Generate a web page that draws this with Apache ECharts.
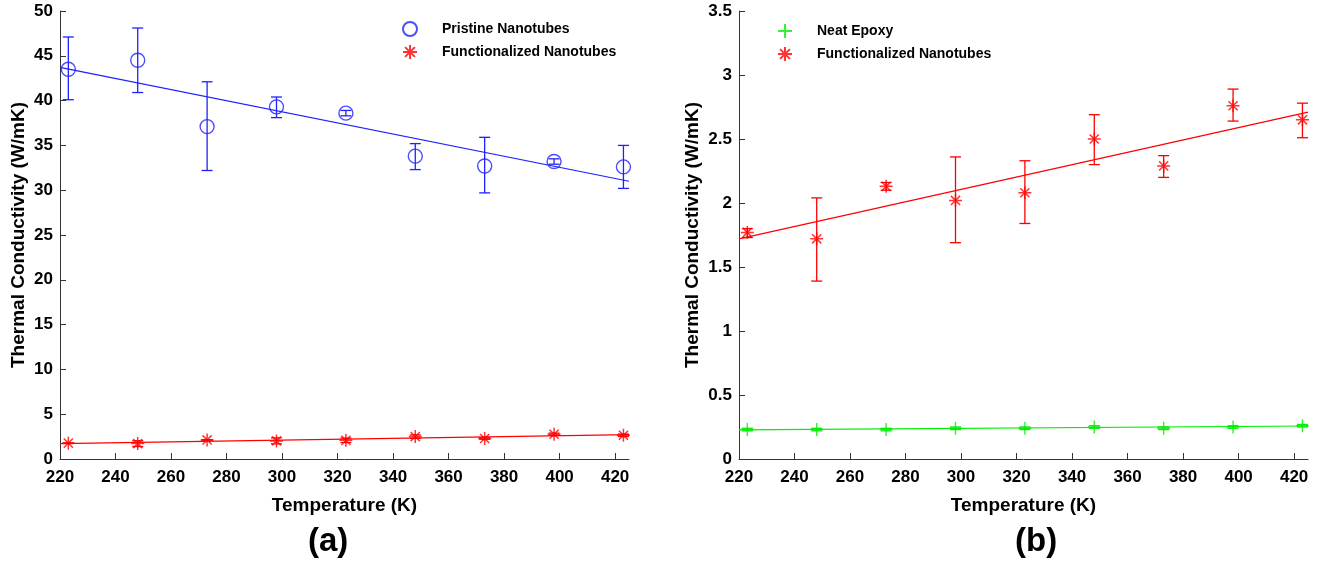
<!DOCTYPE html>
<html>
<head>
<meta charset="utf-8">
<script src="https://cdn.jsdelivr.net/npm/echarts@6/dist/echarts.min.js"></script>
<style>
  html, body { margin: 0; padding: 0; background: #fff; }
  #chart { width: 1325px; height: 570px; }
</style>
</head>
<body>
<div id="chart"></div>
<script>
// Measurement temperatures (K)
const temps = [223, 248, 273, 298, 323, 348, 373, 398, 423];

// Pristine nanotubes: thermal conductivity (W/mK) with error-bar bounds
const pristine     = [43.5, 44.5, 37.1, 39.3, 38.6, 33.8, 32.7, 33.2, 32.6];
const pristineLow  = [40.1, 40.9, 32.2, 38.1, 38.3, 32.3, 29.7, 32.9, 30.2];
const pristineHigh = [47.1, 48.1, 42.1, 40.4, 38.9, 35.2, 35.9, 33.5, 35.0];

// Functionalized nanotubes
const functionalized = [1.77, 1.72, 2.13, 2.02, 2.08, 2.50, 2.29, 2.76, 2.65];
const funcLow        = [1.73, 1.39, 2.10, 1.69, 1.84, 2.30, 2.20, 2.64, 2.51];
const funcHigh       = [1.80, 2.04, 2.16, 2.36, 2.33, 2.69, 2.37, 2.89, 2.78];

// Neat epoxy
const epoxy     = [0.23, 0.23, 0.23, 0.24, 0.24, 0.25, 0.24, 0.25, 0.26];
const epoxyLow  = [0.22, 0.22, 0.22, 0.23, 0.23, 0.24, 0.23, 0.24, 0.25];
const epoxyHigh = [0.24, 0.24, 0.24, 0.25, 0.25, 0.26, 0.25, 0.26, 0.27];

// Linear fit lines, given at the ends of the temperature axis
const fitTemps       = [220, 425];
const pristineFit    = [43.7, 31.0];
const functionalFit  = [1.72, 2.71];
const epoxyFit       = [0.228, 0.258];

// Axis ticks
const tempTicks = [220, 240, 260, 280, 300, 320, 340, 360, 380, 400, 420];

const FONT = 'Liberation Sans, Arial, Helvetica, sans-serif';
const BLUE = '#2020ff';
const RED = '#ff0000';
const GREEN = '#00ee00';
const ASTERISK = 'path://M6,0L6,12M0,6L12,6M1.8,1.8L10.2,10.2M1.8,10.2L10.2,1.8';
const PLUS = 'path://M6,0L6,12M0,6L12,6';

const zip = (a, b) => a.map((v, i) => [v, b[i]]);
const zip3 = (a, b, c) => a.map((v, i) => [v, b[i], c[i]]);

function errorBars(color, cap) {
  return function (params, api) {
    const x = api.value(0);
    const lo = api.coord([x, api.value(1)]);
    const hi = api.coord([x, api.value(2)]);
    const style = { stroke: color, lineWidth: 1.3 };
    return {
      type: 'group',
      children: [
        { type: 'line', shape: { x1: hi[0], y1: hi[1], x2: lo[0], y2: lo[1] }, style },
        { type: 'line', shape: { x1: hi[0] - cap, y1: hi[1], x2: hi[0] + cap, y2: hi[1] }, style },
        { type: 'line', shape: { x1: lo[0] - cap, y1: lo[1], x2: lo[0] + cap, y2: lo[1] }, style }
      ]
    };
  };
}

function xAxisFor(gridIndex) {
  return {
    type: 'value', gridIndex, min: 220, max: 425,
    name: 'Temperature (K)', nameLocation: 'middle', nameGap: 37,
    nameTextStyle: { fontFamily: FONT, fontWeight: 'bold', fontSize: 19, color: '#000' },
    axisLine: { show: true, lineStyle: { color: '#333', width: 1 } },
    axisTick: { show: true, inside: true, length: 6, customValues: tempTicks, lineStyle: { color: '#333' } },
    axisLabel: { customValues: tempTicks, margin: 10, fontFamily: FONT, fontWeight: 'bold', fontSize: 17, color: '#000' },
    splitLine: { show: false }
  };
}

function yAxisFor(gridIndex, max, interval, gap) {
  return {
    type: 'value', gridIndex, min: 0, max, interval,
    name: 'Thermal Conductivity (W/mK)', nameLocation: 'middle', nameGap: gap,
    nameTextStyle: { fontFamily: FONT, fontWeight: 'bold', fontSize: 19, color: '#000' },
    axisLine: { show: true, lineStyle: { color: '#333', width: 1 } },
    axisTick: { show: true, inside: true, length: 6, lineStyle: { color: '#333' } },
    axisLabel: { margin: 7, fontFamily: FONT, fontWeight: 'bold', fontSize: 17, color: '#000' },
    splitLine: { show: false }
  };
}

const chart = echarts.init(document.getElementById('chart'), null, { renderer: 'canvas' });

chart.setOption({
  animation: false,
  backgroundColor: '#fff',
  grid: [
    { left: 60, top: 11, width: 569, height: 448 },
    { left: 739, top: 11, width: 569, height: 448 }
  ],
  xAxis: [xAxisFor(0), xAxisFor(1)],
  yAxis: [yAxisFor(0, 50, 5, 32), yAxisFor(1, 3.5, 0.5, 37)],
  legend: [
    {
      data: ['Pristine Nanotubes', 'Functionalized Nanotubes'],
      orient: 'vertical', left: 397, top: 16, itemWidth: 54, itemHeight: 14, itemGap: 7,
      selectedMode: false,
      textStyle: { fontFamily: FONT, fontWeight: 'bold', fontSize: 14, color: '#000' }
    },
    {
      data: ['Neat Epoxy', 'Functionalized Nanotubes'],
      orient: 'vertical', left: 772, top: 18, itemWidth: 54, itemHeight: 14, itemGap: 7,
      selectedMode: false,
      textStyle: { fontFamily: FONT, fontWeight: 'bold', fontSize: 14, color: '#000' }
    }
  ],
  graphic: [
    { type: 'text', left: 308, top: 525, style: { text: '(a)', font: 'bold 33px ' + FONT, fill: '#000' } },
    { type: 'text', left: 1015, top: 525, style: { text: '(b)', font: 'bold 33px ' + FONT, fill: '#000' } }
  ],
  series: [
    // Panel (a)
    { type: 'line', name: 'pristine fit', xAxisIndex: 0, yAxisIndex: 0, data: zip(fitTemps, pristineFit),
      showSymbol: false, lineStyle: { color: BLUE, width: 1.2 }, z: 1 },
    { type: 'line', name: 'functionalized fit a', xAxisIndex: 0, yAxisIndex: 0, data: zip(fitTemps, functionalFit),
      showSymbol: false, lineStyle: { color: RED, width: 1.2 }, z: 1 },
    { type: 'custom', name: 'pristine err', xAxisIndex: 0, yAxisIndex: 0,
      data: zip3(temps, pristineLow, pristineHigh), renderItem: errorBars(BLUE, 5.5), z: 2 },
    { type: 'custom', name: 'functionalized err a', xAxisIndex: 0, yAxisIndex: 0,
      data: zip3(temps, funcLow, funcHigh), renderItem: errorBars(RED, 5.5), z: 2 },
    { type: 'scatter', name: 'Pristine Nanotubes', xAxisIndex: 0, yAxisIndex: 0, data: zip(temps, pristine),
      symbol: 'circle', symbolSize: 14,
      itemStyle: { color: 'rgba(255,255,255,0)', borderColor: BLUE, borderWidth: 1.4 }, z: 3 },
    { type: 'scatter', name: 'Functionalized Nanotubes', xAxisIndex: 0, yAxisIndex: 0, data: zip(temps, functionalized),
      symbol: ASTERISK, symbolSize: 13,
      itemStyle: { color: 'rgba(255,255,255,0)', borderColor: RED, borderWidth: 1.5 }, z: 3 },

    // Panel (b)
    { type: 'line', name: 'functionalized fit b', xAxisIndex: 1, yAxisIndex: 1, data: zip(fitTemps, functionalFit),
      showSymbol: false, lineStyle: { color: RED, width: 1.2 }, z: 1 },
    { type: 'line', name: 'epoxy fit', xAxisIndex: 1, yAxisIndex: 1, data: zip(fitTemps, epoxyFit),
      showSymbol: false, lineStyle: { color: GREEN, width: 1.2 }, z: 1 },
    { type: 'custom', name: 'functionalized err b', xAxisIndex: 1, yAxisIndex: 1,
      data: zip3(temps, funcLow, funcHigh), renderItem: errorBars(RED, 5.5), z: 2 },
    { type: 'custom', name: 'epoxy err', xAxisIndex: 1, yAxisIndex: 1,
      data: zip3(temps, epoxyLow, epoxyHigh), renderItem: errorBars(GREEN, 5.5), z: 2 },
    { type: 'scatter', name: 'Neat Epoxy', xAxisIndex: 1, yAxisIndex: 1, data: zip(temps, epoxy),
      symbol: PLUS, symbolSize: 13,
      itemStyle: { color: 'rgba(255,255,255,0)', borderColor: GREEN, borderWidth: 1.4 }, z: 3 },
    { type: 'scatter', name: 'Functionalized Nanotubes', xAxisIndex: 1, yAxisIndex: 1, data: zip(temps, functionalized),
      symbol: ASTERISK, symbolSize: 13,
      itemStyle: { color: 'rgba(255,255,255,0)', borderColor: RED, borderWidth: 1.5 }, z: 3 }
  ]
});
</script>
</body>
</html>
